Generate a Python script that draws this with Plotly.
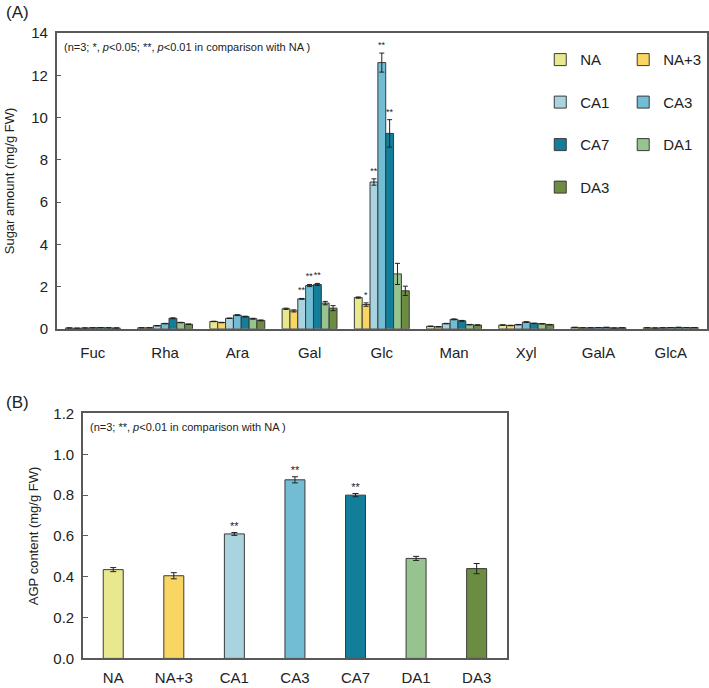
import plotly.graph_objects as go

# (A) monosaccharide composition, mg/g FW
sugars = ["Fuc", "Rha", "Ara", "Gal", "Glc", "Man", "Xyl", "GalA", "GlcA"]
treatments = ["NA", "NA+3", "CA1", "CA3", "CA7", "DA1", "DA3"]
colors = ["#e8e98f", "#f9d664", "#a9d3de", "#72bdd3", "#137e99", "#97c38f", "#6b8c41"]

sugar_na = [0.04, 0.05, 0.35, 0.95, 1.48, 0.12, 0.18, 0.07, 0.05]
sugar_na3 = [0.03, 0.05, 0.30, 0.85, 1.15, 0.10, 0.16, 0.05, 0.04]
sugar_ca1 = [0.04, 0.15, 0.50, 1.42, 6.95, 0.25, 0.20, 0.05, 0.05]
sugar_ca3 = [0.05, 0.25, 0.65, 2.05, 12.60, 0.45, 0.32, 0.06, 0.06]
sugar_ca7 = [0.06, 0.50, 0.58, 2.10, 9.25, 0.38, 0.26, 0.07, 0.07]
sugar_da1 = [0.05, 0.30, 0.48, 1.22, 2.60, 0.20, 0.24, 0.04, 0.06]
sugar_da3 = [0.04, 0.22, 0.40, 0.98, 1.80, 0.18, 0.20, 0.05, 0.06]

err_na = [0.005, 0.005, 0.01, 0.03, 0.03, 0.01, 0.01, 0.005, 0.005]
err_na3 = [0.005, 0.005, 0.01, 0.05, 0.08, 0.01, 0.01, 0.005, 0.005]
err_ca1 = [0.005, 0.01, 0.01, 0.02, 0.15, 0.01, 0.01, 0.005, 0.005]
err_ca3 = [0.005, 0.01, 0.02, 0.05, 0.45, 0.02, 0.02, 0.005, 0.005]
err_ca7 = [0.005, 0.02, 0.02, 0.05, 0.65, 0.02, 0.01, 0.005, 0.005]
err_da1 = [0.005, 0.01, 0.02, 0.08, 0.50, 0.01, 0.01, 0.005, 0.005]
err_da3 = [0.005, 0.01, 0.02, 0.12, 0.22, 0.01, 0.01, 0.005, 0.005]

star_na = [""] * 9
star_na3 = ["", "", "", "", "*", "", "", "", ""]
star_ca1 = ["", "", "", "**", "**", "", "", "", ""]
star_ca3 = ["", "", "", "**", "**", "", "", "", ""]
star_ca7 = ["", "", "", "**", "**", "", "", "", ""]
star_da1 = [""] * 9
star_da3 = [""] * 9

# (B) AGP content, mg/g FW
agp = [0.435, 0.405, 0.61, 0.875, 0.80, 0.49, 0.44]
agp_err = [0.010, 0.015, 0.007, 0.015, 0.008, 0.010, 0.025]
agp_stars = ["", "", "**", "**", "**", "", ""]

values = [sugar_na, sugar_na3, sugar_ca1, sugar_ca3, sugar_ca7, sugar_da1, sugar_da3]
errors = [err_na, err_na3, err_ca1, err_ca3, err_ca7, err_da1, err_da3]
stars = [star_na, star_na3, star_ca1, star_ca3, star_ca7, star_da1, star_da3]
legend_of = ["legend", "legend2", "legend", "legend2", "legend", "legend2", "legend"]

FONT = "Liberation Sans, Arial, sans-serif"
FRAME = "#595959"
OUTLINE = "#3a3a3a"

fig = go.Figure()

for name, col, v, e, s, lg in zip(treatments, colors, values, errors, stars, legend_of):
    fig.add_trace(go.Bar(
        x=sugars, y=v, name=name, offsetgroup=name, legend=lg, legendgroup=name,
        marker=dict(color=col, line=dict(color=OUTLINE, width=1)),
        error_y=dict(type="data", array=e, color="#222", thickness=1, width=2.5),
        xaxis="x", yaxis="y",
    ))
    # invisible bar ending at the top of the error bar, carries the stars
    fig.add_trace(go.Bar(
        x=sugars, y=[a + b for a, b in zip(v, e)], offsetgroup=name, showlegend=False,
        marker=dict(color="rgba(0,0,0,0)", line=dict(width=0)),
        text=s, textposition="outside", constraintext="none", cliponaxis=False,
        textfont=dict(size=9, color="#222", family=FONT), hoverinfo="skip",
        xaxis="x", yaxis="y",
    ))

fig.add_trace(go.Bar(
    x=treatments, y=agp, showlegend=False, width=0.33,
    marker=dict(color=colors, line=dict(color=OUTLINE, width=1)),
    error_y=dict(type="data", array=agp_err, color="#222", thickness=1, width=3),
    xaxis="x2", yaxis="y2",
))
fig.add_trace(go.Scatter(
    x=treatments, y=[a + b for a, b in zip(agp, agp_err)], mode="text",
    text=agp_stars, textposition="top center", showlegend=False, cliponaxis=False,
    textfont=dict(size=11, color="#222", family=FONT), hoverinfo="skip",
    xaxis="x2", yaxis="y2",
))

axis_common = dict(showline=True, linecolor=FRAME, linewidth=1.5, mirror=True,
                   showgrid=False, zeroline=False, automargin=False,
                   tickfont=dict(size=15, color="#222", family=FONT))

fig.update_layout(
    width=709, height=688,
    margin=dict(l=0, r=0, t=0, b=0),
    plot_bgcolor="white", paper_bgcolor="white",
    font=dict(family=FONT, color="#222"),
    barmode="group", bargap=0.24, bargroupgap=0,
    xaxis=dict(domain=[0.080, 0.997], anchor="y", ticks="", ticklabelstandoff=9, **axis_common),
    yaxis=dict(domain=[0.522, 0.952], anchor="x", range=[0, 14], dtick=2,
               ticks="inside", ticklen=5, tickcolor=FRAME, ticklabelstandoff=4,
               tickformat="d",
               title=dict(text="Sugar amount (mg/g FW)", font=dict(size=13, family=FONT), standoff=14),
               **axis_common),
    xaxis2=dict(domain=[0.117, 0.715], anchor="y2", ticks="", ticklabelstandoff=5, **axis_common),
    yaxis2=dict(domain=[0.043, 0.399], anchor="x2", range=[0, 1.2], dtick=0.2,
                ticks="inside", ticklen=5, tickcolor=FRAME, ticklabelstandoff=4,
                tickformat=".1f",
                title=dict(text="AGP content (mg/g FW)", font=dict(size=13, family=FONT), standoff=12),
                **axis_common),
    legend=dict(x=0.762, y=0.937, xanchor="left", yanchor="top", bgcolor="rgba(0,0,0,0)",
                font=dict(size=15, family=FONT), tracegroupgap=20, itemwidth=30),
    legend2=dict(x=0.879, y=0.937, xanchor="left", yanchor="top", bgcolor="rgba(0,0,0,0)",
                 font=dict(size=15, family=FONT), tracegroupgap=20, itemwidth=30),
    annotations=[
        dict(text="(A)", x=0.005, y=0.998, xref="paper", yref="paper", xanchor="left",
             yanchor="top", showarrow=False, font=dict(size=17, family=FONT)),
        dict(text="(B)", x=0.005, y=0.432, xref="paper", yref="paper", xanchor="left",
             yanchor="top", showarrow=False, font=dict(size=17, family=FONT)),
        dict(text="(n=3; *, <i>p</i><0.05; **, <i>p</i><0.01 in comparison with NA )",
             x=0.088, y=0.944, xref="paper", yref="paper", xanchor="left", yanchor="top",
             showarrow=False, font=dict(size=11, family=FONT)),
        dict(text="(n=3; **, <i>p</i><0.01 in comparison with NA )",
             x=0.124, y=0.391, xref="paper", yref="paper", xanchor="left", yanchor="top",
             showarrow=False, font=dict(size=11, family=FONT)),
    ],
)

# drop the page's default 8px body margin so the figure fills the window
fig.write_html("out.html", config={"displayModeBar": False},
               post_script="document.body.style.margin='0';")
